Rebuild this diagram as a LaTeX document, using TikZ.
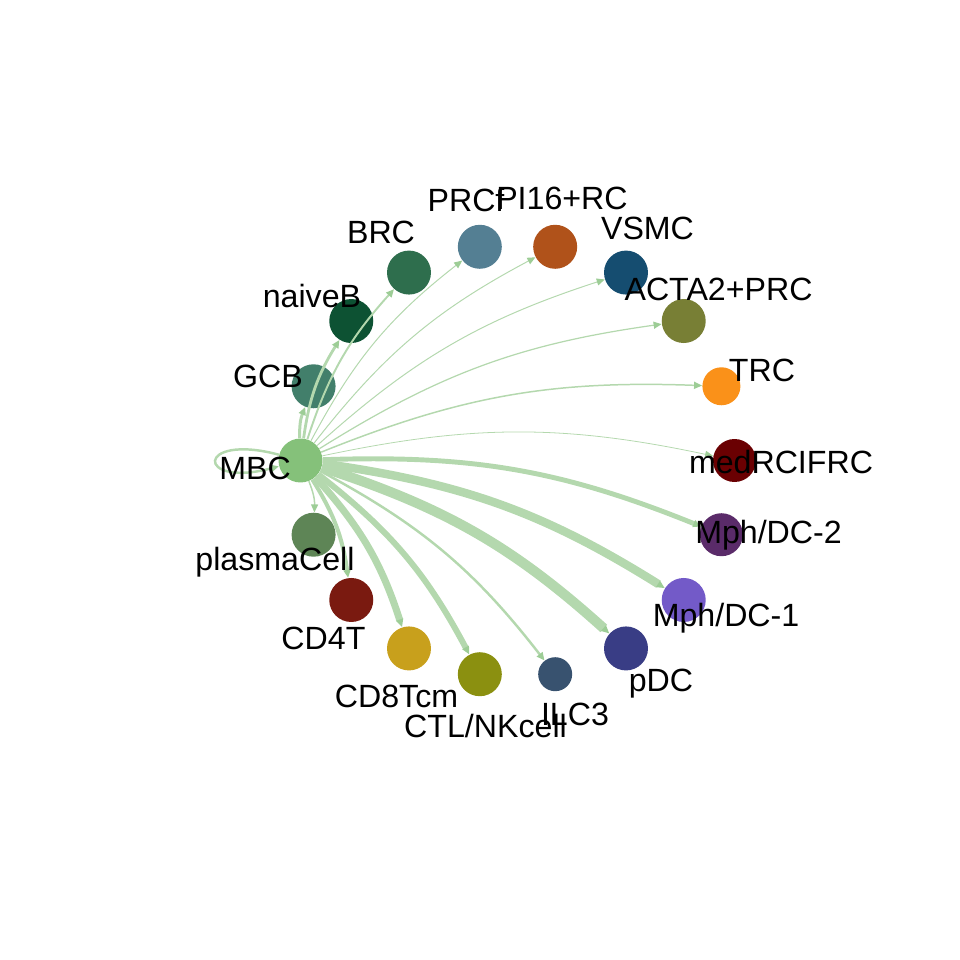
\documentclass[tikz,border=0pt]{standalone}
\usepackage{fontspec}
\setmainfont{Liberation Sans}
\usepackage{tikz}
\usetikzlibrary{arrows.meta, calc}

\definecolor{cMBC}{HTML}{85C17A}
\definecolor{cGCB}{HTML}{427F6B}
\definecolor{cnaiveB}{HTML}{0D5233}
\definecolor{cBRC}{HTML}{2E6E4D}
\definecolor{cPRCf}{HTML}{547F93}
\definecolor{cPI}{HTML}{B0521A}
\definecolor{cVSMC}{HTML}{154D70}
\definecolor{cACTA}{HTML}{787F35}
\definecolor{cTRC}{HTML}{FA9119}
\definecolor{cmedRC}{HTML}{6A0002}
\definecolor{cDCtwo}{HTML}{5A2B69}
\definecolor{cDCone}{HTML}{735AC8}
\definecolor{cpDC}{HTML}{393D85}
\definecolor{cILC}{HTML}{38526F}
\definecolor{cCTL}{HTML}{8B9010}
\definecolor{cCDeight}{HTML}{C8A01C}
\definecolor{cCDfour}{HTML}{7A1A10}
\definecolor{cplasma}{HTML}{5E8556}
\definecolor{edgegreen}{HTML}{B4D8AE}
\definecolor{tipgreen}{HTML}{9DCD96}

\begin{document}
\begin{tikzpicture}[x=0.02cm, y=0.02cm,
  cell/.style={circle, draw=none, inner sep=0pt, minimum size=0.88cm},
  lbl/.style={anchor=base, inner sep=0pt, font=\fontsize{18.3}{22}\selectfont},
  flow/.style={draw=edgegreen, bend left=12, -{Triangle[length=0.16cm, width=0.14cm, color=tipgreen]}},
  selfloop/.style={draw=edgegreen, out=165, in=195, distance=1.74cm, -{Triangle[length=0.16cm, width=0.14cm, color=tipgreen]}},
]
  \useasboundingbox (-517.5,-499.5) rectangle (442.5,460.5);

  % cell groups round the circle
  \foreach \ang/\nm/\col/\sz in {180/MBC/cMBC/0.88cm, 160/GCB/cGCB/0.88cm, 140/naiveB/cnaiveB/0.88cm,
      120/BRC/cBRC/0.88cm, 100/PRCf/cPRCf/0.88cm, 80/PI/cPI/0.88cm, 60/VSMC/cVSMC/0.88cm,
      40/ACTA/cACTA/0.88cm, 20/TRC/cTRC/0.76cm, 0/medRC/cmedRC/0.86cm, -20/DCtwo/cDCtwo/0.86cm,
      -40/DCone/cDCone/0.88cm, -60/pDC/cpDC/0.88cm, -80/ILC/cILC/0.68cm, -100/CTL/cCTL/0.88cm,
      -120/CDeight/cCDeight/0.88cm, -140/CDfour/cCDfour/0.88cm, -160/plasma/cplasma/0.88cm}
    \node[cell, fill=\col, minimum size=\sz] (\nm) at (\ang:217) {};

  % outgoing signals of MBC
  \path
    (MBC) edge[selfloop, line width=1.4pt] (MBC)
    (MBC) edge[flow, line width=1.7pt] (GCB)
    (MBC) edge[flow, line width=1.6pt] (naiveB)
    (MBC) edge[flow, line width=1.1pt] (BRC)
    (MBC) edge[flow, line width=0.57pt] (PRCf)
    (MBC) edge[flow, line width=0.57pt] (PI)
    (MBC) edge[flow, line width=0.57pt] (VSMC)
    (MBC) edge[flow, line width=0.7pt] (ACTA)
    (MBC) edge[flow, line width=0.85pt] (TRC)
    (MBC) edge[flow, line width=0.45pt] (medRC)
    (MBC) edge[flow, line width=2.8pt] (DCtwo)
    (MBC) edge[flow, line width=4.8pt] (DCone)
    (MBC) edge[flow, line width=5.7pt] (pDC)
    (MBC) edge[flow, line width=1.4pt] (ILC)
    (MBC) edge[flow, line width=3.4pt] (CTL)
    (MBC) edge[flow, line width=4pt] (CDeight)
    (MBC) edge[flow, line width=2.3pt] (CDfour)
    (MBC) edge[flow, line width=0.85pt] (plasma);

  % names
  \node[lbl] (lMBC) at ([shift={(-45.5,-19.5)}]MBC.center) {MBC};
  \node[lbl] (lGCB) at ([shift={(-45.6,-1.7)}]GCB.center) {GCB};
  \node[lbl] (lnaiveB) at ([shift={(-39.3,14)}]naiveB.center) {naiveB};
  \node[lbl] (lBRC) at ([shift={(-28,28.6)}]BRC.center) {BRC};
  \node[lbl] (lPRCf) at ([shift={(-13.8,35.1)}]PRCf.center) {PRCf};
  \node[lbl] (lPI) at ([shift={(6.8,36.8)}]PI.center) {PI16+RC};
  \node[lbl] (lVSMC) at ([shift={(21.5,32.6)}]VSMC.center) {VSMC};
  \node[lbl] (lACTA) at ([shift={(34.8,21)}]ACTA.center) {ACTA2+PRC};
  \node[lbl] (lTRC) at ([shift={(40.6,4.3)}]TRC.center) {TRC};
  \node[lbl] (lmedRC) at ([shift={(46.5,-12.5)}]medRC.center) {medRCIFRC};
  \node[lbl] (lDCtwo) at ([shift={(47.1,-8.3)}]DCtwo.center) {Mph/DC-2};
  \node[lbl] (lDCone) at ([shift={(42.3,-27)}]DCone.center) {Mph/DC-1};
  \node[lbl] (lpDC) at ([shift={(35,-42.6)}]pDC.center) {pDC};
  \node[lbl] (lILC) at ([shift={(19.8,-50.8)}]ILC.center) {ILC3};
  \node[lbl] (lCTL) at ([shift={(5.7,-62.8)}]CTL.center) {CTL/NKcell};
  \node[lbl] (lCDeight) at ([shift={(-12.5,-58.6)}]CDeight.center) {CD8Tcm};
  \node[lbl] (lCDfour) at ([shift={(-27.8,-50)}]CDfour.center) {CD4T};
  \node[lbl] (lplasma) at ([shift={(-38.6,-35.3)}]plasma.center) {plasmaCell};
\end{tikzpicture}
\end{document}
